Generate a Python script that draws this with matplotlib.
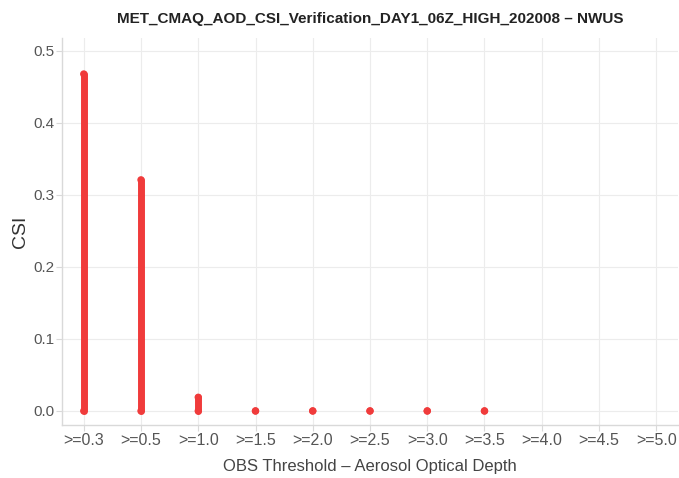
import matplotlib
matplotlib.use("Agg")
import matplotlib.pyplot as plt
import numpy as np

plt.rcParams['font.family'] = ['Liberation Sans', 'DejaVu Sans']

thresholds = [">=0.3", ">=0.5", ">=1.0", ">=1.5", ">=2.0", ">=2.5", ">=3.0", ">=3.5", ">=4.0", ">=4.5", ">=5.0"]
csi_min = [0.0, 0.0, 0.0, 0.0, 0.0, 0.0, 0.0, 0.0, np.nan, np.nan, np.nan]
csi_max = [0.468, 0.321, 0.019, 0.0, 0.0, 0.0, 0.0, 0.0, np.nan, np.nan, np.nan]

red = "#f03b3b"
fig = plt.figure(figsize=(6.79, 4.78), dpi=100)
ax = fig.add_axes([62/679, 1-425/478, (678-62)/679, (425-38)/478])

x = np.arange(len(thresholds))
for xi, lo, hi in zip(x, csi_min, csi_max):
    if np.isnan(lo):
        continue
    ax.plot([xi, xi], [lo, hi], color=red, lw=5.0, solid_capstyle='round', zorder=3)
    ax.scatter([xi, xi], [lo, hi], s=28, color=red, edgecolors='none', zorder=3)

ax.set_xlim(-0.38, 10.38)
ax.set_ylim(-0.0195, 0.518)
ax.set_xticks(x)
ax.set_xticklabels(thresholds)
ax.set_yticks([0, 0.1, 0.2, 0.3, 0.4, 0.5])
ax.set_yticklabels(["0.0", "0.1", "0.2", "0.3", "0.4", "0.5"])
ax.grid(True, color="#ececec", lw=0.8)
ax.set_axisbelow(True)
for s in ['top', 'right']:
    ax.spines[s].set_visible(False)
for s in ['left', 'bottom']:
    ax.spines[s].set_color("#d9d9d9")
    ax.spines[s].set_linewidth(1.0)
ax.tick_params(axis='both', colors="#d9d9d9", labelcolor="#555555", labelsize=11.5, length=4, width=0.8)
ax.tick_params(axis='y', labelsize=11, pad=1.5)
ax.tick_params(axis='x', pad=2)

ax.set_title("MET_CMAQ_AOD_CSI_Verification_DAY1_06Z_HIGH_202008 – NWUS",
             fontsize=11, fontweight='bold', color="#222222", pad=11, x=(370-62)/(678-62))
ax.set_ylabel("CSI", fontsize=14, color="#333333", labelpad=3)
ax.set_xlabel("OBS Threshold – Aerosol Optical Depth", fontsize=12, color="#444444", labelpad=8)

fig.savefig("out.png", dpi=100)
